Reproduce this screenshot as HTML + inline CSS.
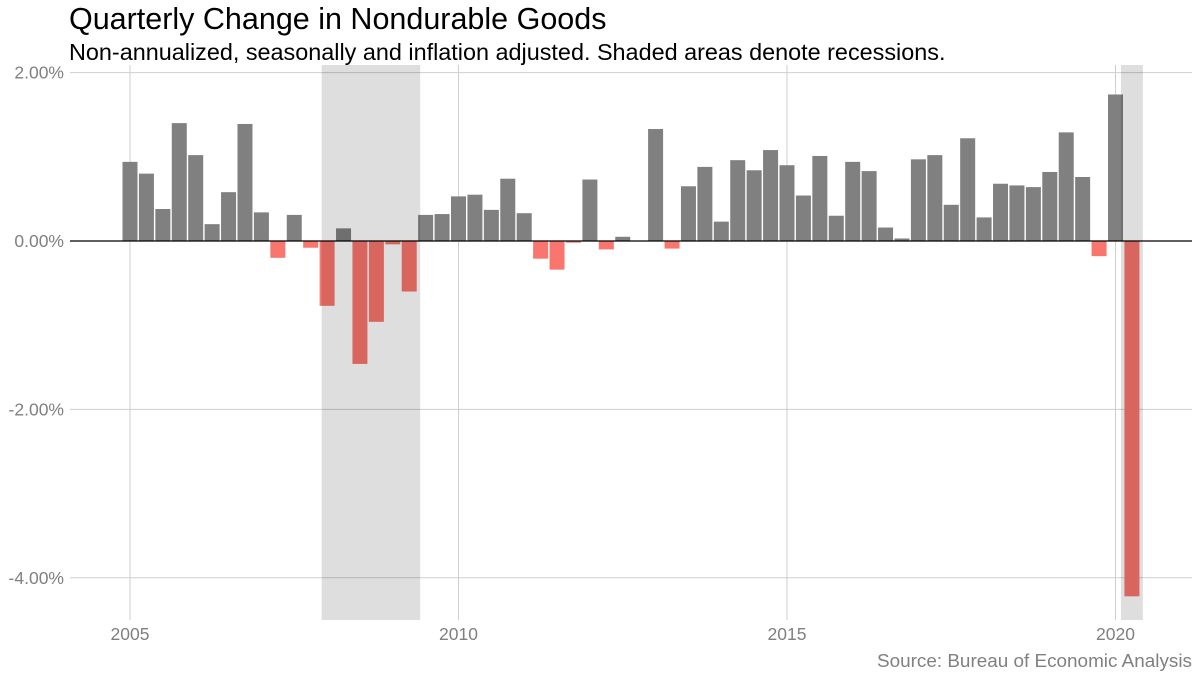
<!DOCTYPE html>
<html><head><meta charset="utf-8"><style>
body{margin:0;background:#fff;font-family:"Liberation Sans",sans-serif;}
svg{display:block}
</style></head><body>
<svg id="c" width="1200" height="676" xmlns="http://www.w3.org/2000/svg">
<text x="69" y="29" font-size="30.5" fill="#000">Quarterly Change in Nondurable Goods</text>
<text x="69" y="60" font-size="23.4" fill="#000">Non-annualized, seasonally and inflation adjusted. Shaded areas denote recessions.</text>
<text x="1192" y="667" font-size="18.9" fill="#808080" text-anchor="end">Source: Bureau of Economic Analysis</text>
<g id="grid"></g><g id="bars"></g><g id="shade"></g><g id="axes"></g>
</svg>
<script>
const startYear = 2005;
const values = [0.94,0.80,0.38,1.40,1.02,0.20,0.58,1.39,0.34,-0.20,0.31,-0.08,-0.77,0.15,-1.46,-0.96,-0.04,-0.60,0.31,0.32,0.53,0.55,0.37,0.74,0.33,-0.21,-0.34,-0.02,0.73,-0.10,0.05,0.00,1.33,-0.09,0.65,0.88,0.23,0.96,0.84,1.08,0.90,0.54,1.01,0.30,0.94,0.83,0.16,0.03,0.97,1.02,0.43,1.22,0.28,0.68,0.66,0.64,0.82,1.29,0.76,-0.18,1.74,-4.22];
const recessions = [[2007.917,2009.417],[2020.083,2020.417]];
const yTicks = [2,0,-2,-4];
const yTickLabels = ["2.00%","0.00%","-2.00%","-4.00%"];
const xTicks = [2005,2010,2015,2020];
const NS="http://www.w3.org/2000/svg";
const X = t => 130 + (t-2005)*65.7;
const Y = v => 241 - v*84.2;
const pTop=65, pBot=620, pLeft=70, pRight=1192;
function mk(tag, attrs, parent){const e=document.createElementNS(NS,tag);for(const k in attrs)e.setAttribute(k,attrs[k]);parent.appendChild(e);return e;}
const grid=document.getElementById('grid'),bars=document.getElementById('bars'),shade=document.getElementById('shade'),axes=document.getElementById('axes');
yTicks.forEach((v,i)=>{
  const l=mk('line',{x1:pLeft,x2:pRight,y1:Y(v),y2:Y(v),stroke:'#cfcfcf','stroke-width':1},grid);
  
  
  const t=mk('text',{x:64,y:Y(v)+6,'text-anchor':'end','font-size':17.5,fill:'#808080'},axes);
  t.textContent=yTickLabels[i];
  
  
});
xTicks.forEach(y=>{
  const l=mk('line',{x1:X(y),x2:X(y),y1:pTop,y2:pBot,stroke:'#cfcfcf','stroke-width':1},grid);
  
  
  const t=mk('text',{x:X(y),y:640,'text-anchor':'middle','font-size':17.5,fill:'#808080'},axes);
  t.textContent=y;
  
  
});
values.forEach((v,i)=>{
  const t=startYear+i/4, cx=X(t), w=15;
  const r=mk('rect',{x:cx-w/2,y:Math.min(Y(v),Y(0)),width:w,height:Math.abs(Y(v)-Y(0)),fill:v>=0?'#808080':'#F8766D'},bars);
  
  
});
recessions.forEach(r=>{
  const s=mk('rect',{x:X(r[0]),y:pTop,width:X(r[1])-X(r[0]),height:pBot-pTop,fill:'#000','fill-opacity':0.13},shade);
  
  
});
const z=mk('line',{x1:pLeft,x2:pRight,y1:Y(0),y2:Y(0),stroke:'#000','stroke-width':1.2},axes);


</script>
</body></html>
